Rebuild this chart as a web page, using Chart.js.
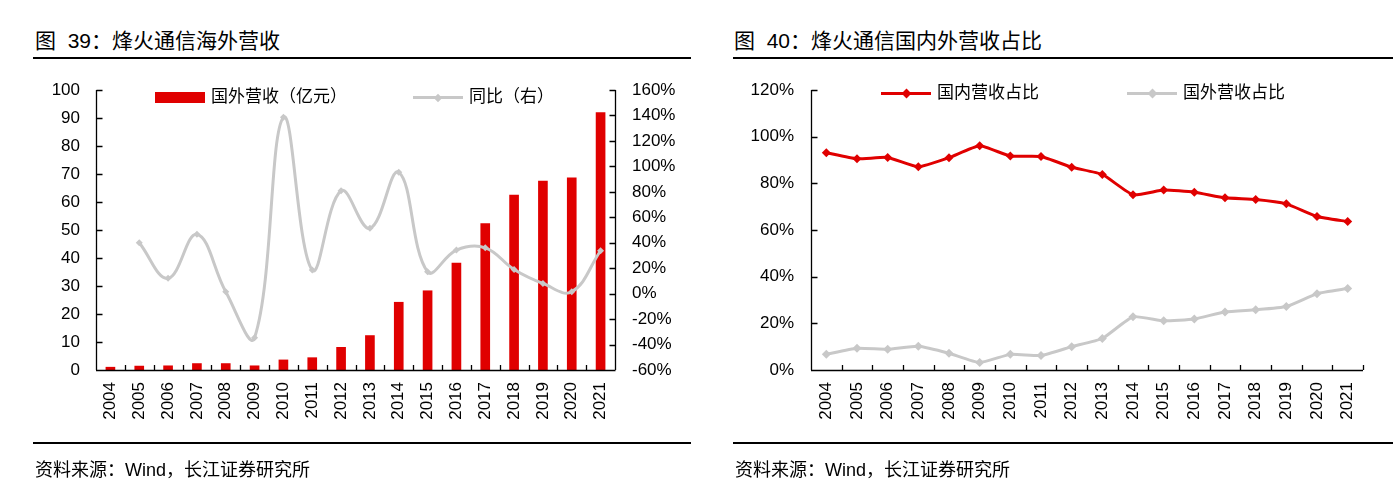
<!DOCTYPE html>
<html><head><meta charset="utf-8">
<script src="https://cdn.jsdelivr.net/npm/chart.js@4/dist/chart.umd.min.js"></script>
<style>
body{margin:0;width:1397px;height:488px;background:#fff;position:relative;overflow:hidden;font-family:"Liberation Sans","Noto Sans CJK SC",sans-serif;color:#000}
.abs{position:absolute}
.title{font-size:21px;line-height:24px;white-space:nowrap}
.rule{height:2px;background:#000}
.src{font-size:18px;line-height:20px;white-space:nowrap}
.leg{font-size:17px;line-height:20px;white-space:nowrap}
.dia{position:absolute;transform:rotate(45deg)}
</style></head><body>
<div class="abs title" style="left:35px;top:29px">图&nbsp; 39：烽火通信海外营收</div>
<div class="abs rule" style="left:33px;top:57px;width:658px"></div>
<div class="abs title" style="left:734px;top:29px">图&nbsp; 40：烽火通信国内外营收占比</div>
<div class="abs rule" style="left:733px;top:57px;width:660px"></div>

<canvas id="c1" class="abs" style="left:0;top:0" width="700" height="488"></canvas>
<canvas id="c2" class="abs" style="left:700px;top:0" width="697" height="488"></canvas>

<!-- legends -->
<div class="abs" style="left:155px;top:92px;width:50px;height:11px;background:#E00000"></div>
<div class="abs leg" style="left:211px;top:87px">国外营收（亿元）</div>
<div class="abs" style="left:413px;top:96px;width:50px;height:3px;background:#C8C8C8"></div>
<div class="dia" style="left:435px;top:94.5px;width:6px;height:6px;background:#C8C8C8"></div>
<div class="abs leg" style="left:469px;top:87px">同比（右）</div>

<div class="abs" style="left:881px;top:91.5px;width:50px;height:3px;background:#E00000"></div>
<div class="dia" style="left:902.5px;top:89.5px;width:7px;height:7px;background:#E00000"></div>
<div class="abs leg" style="left:937px;top:83px">国内营收占比</div>
<div class="abs" style="left:1127px;top:91.5px;width:50px;height:3px;background:#C8C8C8"></div>
<div class="dia" style="left:1148.5px;top:89.5px;width:7px;height:7px;background:#C8C8C8"></div>
<div class="abs leg" style="left:1183px;top:83px">国外营收占比</div>

<div class="abs rule" style="left:33px;top:442px;width:658px"></div>
<div class="abs rule" style="left:733px;top:442px;width:660px"></div>
<div class="abs src" style="left:35px;top:460px">资料来源：Wind，长江证券研究所</div>
<div class="abs src" style="left:735px;top:460px">资料来源：Wind，长江证券研究所</div>

<script>
const years = ['2004','2005','2006','2007','2008','2009','2010','2011','2012','2013','2014','2015','2016','2017','2018','2019','2020','2021'];
const overseasRevenue = [1.0,1.4,1.5,2.3,2.3,1.5,3.6,4.4,8.1,12.3,24.2,28.3,38.2,52.3,62.5,67.5,68.6,91.9];
const overseasYoY = [null,40,12,46.6,1.5,-34.6,138.5,18.5,80.8,51.3,95.3,17.2,34.2,36,19,8,1.5,33.7];
const domesticShare = [93.1,90.5,91.1,87.1,91.0,96.1,91.7,91.5,86.9,83.8,75.1,77.1,76.2,73.8,73.1,71.2,65.8,63.6];
const foreignShare = [6.7,9.3,8.9,10.2,7.2,3.2,6.7,6.2,10.0,13.5,22.8,21.1,21.9,24.9,25.8,27.2,32.7,34.9];
const leftAxisRange = [0,100,10];
const rightAxisRange = [-60,160,20];
const shareAxisRange = [0,120,20];

const RED = '#E00000', GRAY = '#C8C8C8';
const FONT = {family:'"Liberation Sans","Noto Sans CJK SC",sans-serif', size:17};
const pct = v => v + '%';

const axesPlugin = {
  id:'axesPlugin',
  afterDraw(chart){
    const ctx = chart.ctx; const xs = chart.scales.x;
    ctx.save(); ctx.strokeStyle = '#000'; ctx.lineWidth = 1.3;
    ctx.beginPath();
    ctx.moveTo(xs.left, xs.top + 0.5); ctx.lineTo(xs.right, xs.top + 0.5);
    const n = xs.ticks.length, w = (xs.right - xs.left) / n;
    for (let i = 0; i <= n; i++) {
      const px = Math.round(xs.left + i * w) + 0.5;
      ctx.moveTo(px, xs.top); ctx.lineTo(px, xs.top - 5);
    }
    for (const id of ['y','y1']) {
      const s = chart.scales[id]; if (!s) continue;
      const left = s.position === 'left';
      const x0 = (left ? s.right : s.left) + 0.5;
      ctx.moveTo(x0, s.top); ctx.lineTo(x0, s.bottom);
      s.ticks.forEach(t => {
        const py = Math.round(s.getPixelForValue(t.value)) + 0.5;
        ctx.moveTo(x0, py); ctx.lineTo(x0 + (left ? 6 : -6), py);
      });
    }
    ctx.stroke(); ctx.restore();
  }
};

const xScale = {
  type:'category', offset:true, grid:{display:false, drawTicks:false, offset:true}, border:{display:false},
  ticks:{font:FONT, color:'#000', minRotation:90, maxRotation:90, autoSkip:false, padding:12},
  afterFit(s){ s.height = 118; }
};

new Chart(document.getElementById('c1'), {
  data:{
    labels: years,
    datasets:[
      {type:'line', label:'同比（右）', data: overseasYoY, yAxisID:'y1', order:0,
       borderColor:GRAY, backgroundColor:GRAY, borderWidth:3, tension:0.4,
       pointStyle:'rectRot', pointRadius:3.5, pointBackgroundColor:GRAY, pointBorderWidth:0, spanGaps:true},
      {type:'bar', label:'国外营收（亿元）', data: overseasRevenue, yAxisID:'y', order:1,
       backgroundColor:RED, barThickness:9}
    ]
  },
  options:{
    responsive:false, animation:false, devicePixelRatio:1,
    layout:{padding:{top:90,left:0,right:0,bottom:0}},
    plugins:{legend:{display:false}, tooltip:{enabled:false}},
    scales:{
      x: xScale,
      y:{position:'left', min:leftAxisRange[0], max:leftAxisRange[1],
         grid:{display:false, drawTicks:false}, border:{display:false},
         ticks:{stepSize:leftAxisRange[2], font:FONT, color:'#000', padding:16},
         afterFit(s){ s.width = 96; }},
      y1:{position:'right', min:rightAxisRange[0], max:rightAxisRange[1],
         grid:{display:false, drawTicks:false}, border:{display:false},
         ticks:{stepSize:rightAxisRange[2], font:FONT, color:'#000', padding:17, callback:pct},
         afterFit(s){ s.width = 85; }}
    }
  },
  plugins:[axesPlugin]
});

new Chart(document.getElementById('c2'), {
  type:'line',
  data:{
    labels: years,
    datasets:[
      {label:'国内营收占比', data: domesticShare, borderColor:RED, backgroundColor:RED, borderWidth:3,
       tension:0.15, pointStyle:'rectRot', pointRadius:4.5, pointBorderWidth:0},
      {label:'国外营收占比', data: foreignShare, borderColor:GRAY, backgroundColor:GRAY, borderWidth:3,
       tension:0.15, pointStyle:'rectRot', pointRadius:4.5, pointBorderWidth:0}
    ]
  },
  options:{
    responsive:false, animation:false, devicePixelRatio:1,
    layout:{padding:{top:90,left:0,right:34,bottom:0}},
    plugins:{legend:{display:false}, tooltip:{enabled:false}},
    scales:{
      x: xScale,
      y:{position:'left', min:shareAxisRange[0], max:shareAxisRange[1],
         grid:{display:false, drawTicks:false}, border:{display:false},
         ticks:{stepSize:shareAxisRange[2], font:FONT, color:'#000', padding:17, callback:pct},
         afterFit(s){ s.width = 111; }}
    }
  },
  plugins:[axesPlugin]
});
</script>
</body></html>
